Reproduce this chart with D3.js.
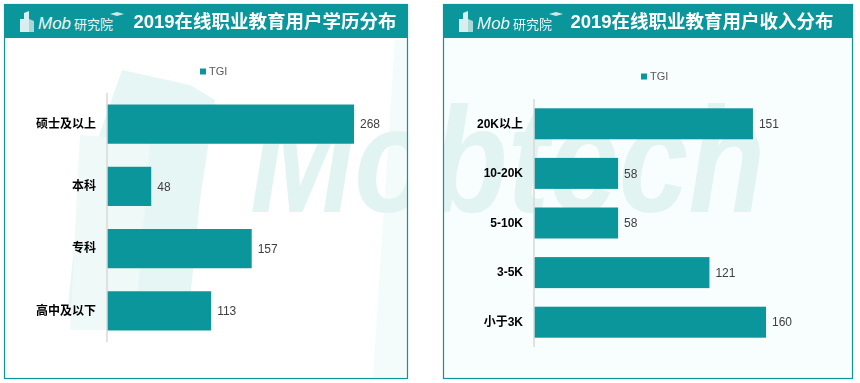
<!DOCTYPE html>
<html><head><meta charset="utf-8">
<script src="https://cdn.jsdelivr.net/npm/d3@7"></script>
<style>body{margin:0;background:#fff}#wrap{position:relative;width:860px;height:383px}
canvas,svg{position:absolute;left:0;top:0;display:block}</style>
</head><body>
<div id="wrap"><canvas id="bg" width="860" height="383"></canvas><svg id="c" width="860" height="383"></svg></div>
<script>
const eduTitle = "2019在线职业教育用户学历分布";
const eduCats = ["硕士及以上","本科","专科","高中及以下"];
const eduVals = [268,48,157,113];
const incTitle = "2019在线职业教育用户收入分布";
const incCats = ["20K以上","10-20K","5-10K","3-5K","小于3K"];
const incVals = [151,58,58,121,160];
const seriesName = "TGI";

const TEAL = "#0b969c";
const FONT = "'Liberation Sans','Noto Sans CJK SC',sans-serif";

const panels = [
  {x:4, w:403, y:4, h:374, title:eduTitle, cats:eduCats, vals:eduVals, bg:"#ffffff",
   axisX:107, y0:93, y1:342, xmax:300, pxPerUnit:0.9216, pad:0.37, legendX:200, legendY:71, titleX:265},
  {x:443, w:409, y:4, h:374, title:incTitle, cats:incCats, vals:incVals, bg:"#f8fdfd",
   axisX:534, y0:99, y1:347, xmax:200, pxPerUnit:1.45, pad:0.375, legendX:641, legendY:76, titleX:702}
];

// ---- background decoration (panel fills + brand watermark) on canvas ----
const ctx = document.getElementById("bg").getContext("2d");
ctx.fillStyle="#fff"; ctx.fillRect(0,0,860,383);
panels.forEach(p=>{ ctx.fillStyle=p.bg; ctx.fillRect(p.x,p.y,p.w,p.h); });
ctx.fillStyle="#f4fbfb";
ctx.beginPath(); ctx.moveTo(395,40); ctx.lineTo(407,40); ctx.lineTo(407,377); ctx.lineTo(373,377); ctx.closePath(); ctx.fill();
ctx.save();
ctx.beginPath(); panels.forEach(p=>ctx.rect(p.x,p.y,p.w,p.h)); ctx.clip();
ctx.fillStyle="#e6f6f4";
ctx.beginPath(); ctx.moveTo(122,70); ctx.lineTo(190,85); ctx.lineTo(215,100); ctx.lineTo(200,200); ctx.lineTo(190,300);
ctx.lineTo(68,306); ctx.lineTo(80,190); ctx.closePath(); ctx.fill();
ctx.fillStyle="#eef9f8";
ctx.beginPath(); ctx.moveTo(80,135); ctx.lineTo(150,140); ctx.lineTo(135,330); ctx.lineTo(70,330); ctx.closePath(); ctx.fill();
ctx.fillStyle="#e2f4f2";
ctx.font="italic bold 150px 'Liberation Sans', sans-serif";
const tw = ctx.measureText("Mobtech").width;
ctx.translate(250,212); ctx.scale(515/tw,1);
ctx.fillText("Mobtech",0,0);
ctx.restore();

// ---- chart ----
const svg = d3.select("#c");
panels.forEach(p=>{
  svg.append("rect").attr("x",p.x+0.5).attr("y",p.y+0.5).attr("width",p.w).attr("height",p.h)
    .attr("fill","none").attr("stroke",TEAL).attr("stroke-width",1.2);
});

panels.forEach(p=>{
  // header
  svg.append("rect").attr("x",p.x).attr("y",p.y).attr("width",p.w+1).attr("height",34).attr("fill",TEAL);
  // logo
  const lg = svg.append("g").attr("transform",`translate(${p.x+14},${p.y+6})`);
  lg.append("path").attr("d","M2,22 L2,9 L6,9 L6,3 L11,1 L11,22 Z").attr("fill","#d9eeee");
  lg.append("path").attr("d","M11,22 L11,9 L16,11 L16,22 Z").attr("fill","#a8d8d8");
  lg.append("text").attr("x",20).attr("y",19).attr("fill","#eef8f8").attr("font-family",FONT)
    .attr("font-style","italic").attr("font-size",17).text("Mob");
  lg.append("text").attr("x",56).attr("y",18.5).attr("fill","#eef8f8").attr("font-family","'Noto Sans CJK SC',sans-serif")
    .attr("font-size",13).text("研究院");
  lg.append("path").attr("d","M92,4 L99,2 L106,4 L99,6 Z").attr("fill","#cfe9e9");
  // title
  svg.append("text").attr("x",p.titleX).attr("y",p.y+24).attr("text-anchor","middle")
    .attr("fill","#fff").attr("font-family",FONT).attr("font-weight","bold").attr("font-size",18.5)
    .text(p.title);

  const y = d3.scaleBand().domain(p.cats).range([p.y0,p.y1]).paddingInner(p.pad).paddingOuter(p.pad/2);
  const x = d3.scaleLinear().domain([0,p.xmax]).range([p.axisX, p.axisX + p.xmax*p.pxPerUnit]);

  const g = svg.append("g");
  g.selectAll("rect.bar").data(p.vals).join("rect").attr("class","bar")
    .attr("x",x(0)).attr("y",(d,i)=>y(p.cats[i])).attr("width",d=>x(d)-x(0))
    .attr("height",y.bandwidth()).attr("fill",TEAL);
  g.selectAll("text.val").data(p.vals).join("text").attr("class","val")
    .attr("x",d=>x(d)+6).attr("y",(d,i)=>y(p.cats[i])+y.bandwidth()/2).attr("dy","0.35em")
    .attr("font-family",FONT).attr("font-size",12).attr("fill","#404040").text(d=>d);

  const ax = g.append("g").attr("transform",`translate(${p.axisX},0)`)
    .call(d3.axisLeft(y).tickSize(0).tickPadding(11));
  ax.select(".domain").attr("stroke","#d9d9d9").attr("stroke-width",1.5)
    .attr("d",`M0,${p.y0}V${p.y1}`);
  ax.selectAll("text").attr("font-family",FONT).attr("font-weight","bold").attr("font-size",12).attr("fill","#000");

  svg.append("rect").attr("x",p.legendX).attr("y",p.legendY-2.5).attr("width",6).attr("height",6).attr("fill",TEAL);
  svg.append("text").attr("x",p.legendX+9).attr("y",p.legendY+0.5).attr("dy","0.35em")
    .attr("font-family",FONT).attr("font-size",11).attr("fill","#595959").text(seriesName);
});
</script>
</body></html>
